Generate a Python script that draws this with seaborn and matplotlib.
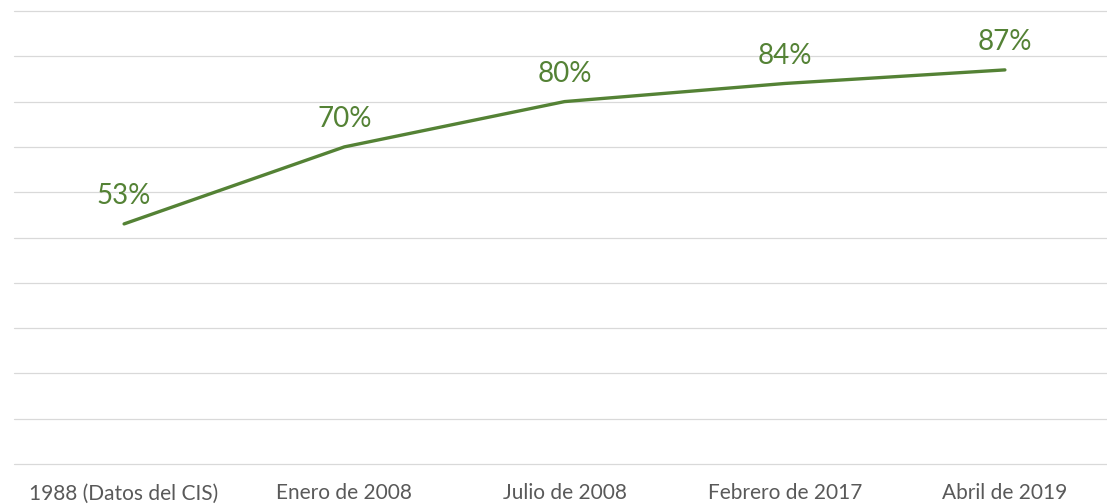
import pandas as pd
import matplotlib.pyplot as plt
import seaborn as sns

fechas = ["1988 (Datos del CIS)", "Enero de 2008", "Julio de 2008", "Febrero de 2017", "Abril de 2019"]
porcentajes = [53, 70, 80, 84, 87]
etiquetas = ["53%", "70%", "80%", "84%", "87%"]

df = pd.DataFrame({"fecha": fechas, "pct": porcentajes})

sns.set_style("white")
plt.rcParams["font.family"] = ["Lato", "DejaVu Sans"]

fig = plt.figure(figsize=(11.07, 5.04), dpi=100)
ax = fig.add_axes([14 / 1107, 40 / 504, 1101 / 1107, 453 / 504])

verde = "#548235"
sns.lineplot(data=df, x="fecha", y="pct", color=verde, linewidth=2.4, ax=ax, sort=False)

for i, (v, t) in enumerate(zip(porcentajes, etiquetas)):
    ax.annotate(t, (i, v), xytext=(0, 20), textcoords="offset points",
                ha="center", va="center", fontsize=20, color=verde)

ax.set_ylim(0, 100)
ax.set_xlim(-0.5, 4.5)
ax.set_yticks(range(0, 101, 10))
ax.set_yticklabels([])
ax.yaxis.grid(True, color="#d9d9d9", linewidth=0.9)
ax.xaxis.grid(False)
for g in ax.get_ygridlines():
    g.set_clip_on(False)
for s in ax.spines.values():
    s.set_visible(False)
ax.tick_params(axis="both", length=0)
ax.tick_params(axis="x", pad=14, labelsize=15, labelcolor="#595959")
ax.set_xlabel("")
ax.set_ylabel("")

fig.savefig("out.png", dpi=100)
